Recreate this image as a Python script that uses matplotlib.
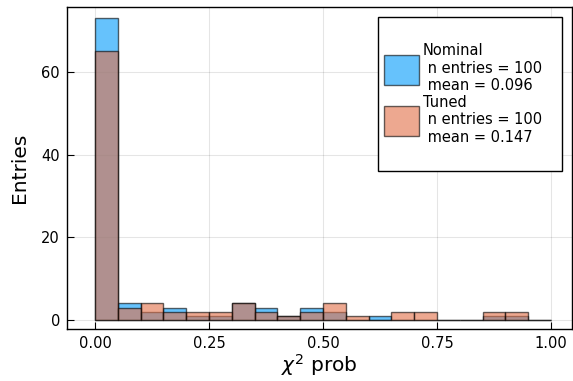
import matplotlib
matplotlib.use("Agg")
import matplotlib.pyplot as plt
from matplotlib.patches import Patch, Rectangle
import numpy as np

bin_edges = [i * 0.05 for i in range(21)]
nominal = [73, 4, 2, 3, 1, 1, 4, 3, 1, 3, 2, 0, 1, 0, 0, 0, 0, 1, 1, 0]
tuned = [65, 3, 4, 2, 2, 2, 4, 2, 1, 2, 4, 1, 0, 2, 2, 0, 0, 2, 2, 0]
labels = ["Nominal\n n entries = 100\n mean = 0.096",
          "Tuned\n n entries = 100\n mean = 0.147"]
xticks = [0.0, 0.25, 0.5, 0.75, 1.0]
xticklabels = ["0.00", "0.25", "0.50", "0.75", "1.00"]
yticks = [0, 20, 40, 60]

c1 = "#009AFA"
c2 = "#E26F46"
alpha = 0.6

W, H = 573, 381
fig = plt.figure(figsize=(W/100, H/100), dpi=100)
ax = fig.add_axes([67/W, 1-329/H, (572-67)/W, (329-7)/H])

left = np.array(bin_edges[:-1])
w = np.diff(bin_edges)
ax.bar(left, nominal, width=w, align="edge", color=c1, alpha=alpha,
       edgecolor="black", linewidth=1.0, zorder=2)
ax.bar(left, tuned, width=w, align="edge", color=c2, alpha=alpha,
       edgecolor="black", linewidth=1.0, zorder=3)

ax.set_xlim(-0.0614, 1.046)
ax.set_ylim(-2.18, 75.7)
ax.set_xticks(xticks)
ax.set_xticklabels(xticklabels)
ax.set_yticks(yticks)
ax.grid(True, color="black", alpha=0.1, linewidth=0.8, zorder=0)
ax.set_axisbelow(True)
ax.tick_params(labelsize=10.5, length=5, direction="in", width=0.8, colors="black")
ax.tick_params(axis="x", pad=5)
ax.tick_params(axis="y", pad=5)
for s in ax.spines.values():
    s.set_linewidth(1.0)

ax.set_xlabel(r"$\chi^2$ prob", fontsize=14.5, labelpad=1)
ax.set_ylabel("Entries", fontsize=14.5, labelpad=9)

# legend frame (pixel coords from the top-left corner)
fx0, fy0, fx1, fy1 = 378, 17, 562, 171
fig.patches.append(Rectangle((fx0/W, 1-fy1/H), (fx1-fx0)/W, (fy1-fy0)/H,
                             transform=fig.transFigure, facecolor="white",
                             edgecolor="black", linewidth=1.0, zorder=5))

handles = [Patch(facecolor=c1, alpha=alpha, edgecolor="black"),
           Patch(facecolor=c2, alpha=alpha, edgecolor="black")]
fs = 10.5
leg = fig.legend(handles, labels, loc="center left",
                 bbox_to_anchor=(384/W, 1-94/H),
                 fontsize=fs, frameon=False,
                 handlelength=2.4, handleheight=2.8, handletextpad=0.25,
                 labelspacing=0.12, borderpad=0.0, borderaxespad=0.0)
leg.set_zorder(6)

fig.savefig("out.png", dpi=100)
